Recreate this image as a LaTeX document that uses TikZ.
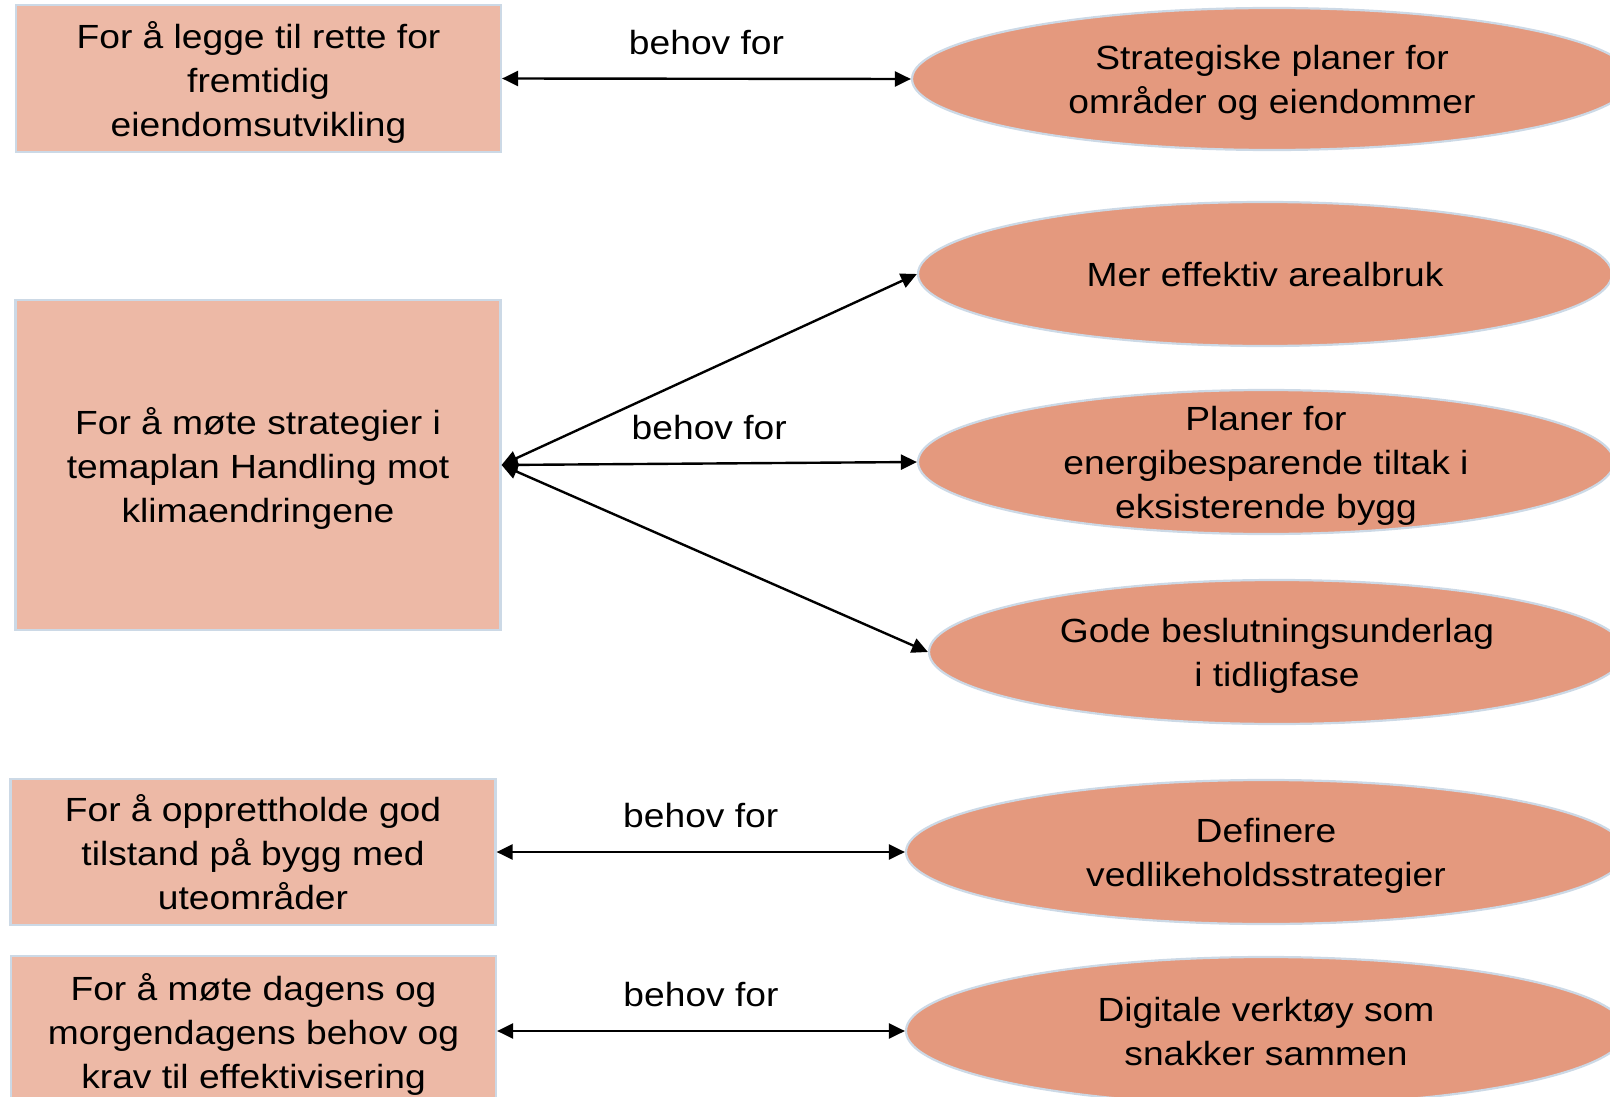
\documentclass[tikz,border=0pt]{standalone}
\usepackage{fontspec}
\setmainfont[FakeStretch=1.11]{Liberation Sans}
\usetikzlibrary{arrows.meta,shapes.geometric}
\definecolor{Peach}{HTML}{EDB9A6}
\definecolor{Salmon}{HTML}{E4997E}
\definecolor{Rim}{HTML}{CCD9E6}
\newcommand{\bigtext}{\fontsize{33.5}{44}\selectfont}
\tikzset{
 box/.style={draw=Rim,fill=Peach,line width=2.2pt,align=center,inner sep=0pt,minimum width=485pt,font=\bigtext,text depth=0pt},
 blob/.style={ellipse,draw=Rim,fill=Salmon,line width=2.2pt,align=center,inner xsep=8pt,inner ysep=-12pt,minimum height=144pt,font=\bigtext,text depth=0pt},
 arr/.style={{Triangle[length=16pt,width=15pt]}-{Triangle[length=16pt,width=15pt]},line width=2.4pt,draw=black},
 lbl/.style={above=22.5pt,inner sep=0pt,font=\bigtext}
}
\begin{document}
\begin{tikzpicture}[x=1pt,y=-1pt]
\useasboundingbox (0,0) rectangle (1610,1097);
\clip (0,0) rectangle (1610,1097);
% left column
\node[box,minimum height=147pt] (b1) at (258.5,78.5) {For å legge til rette for\\fremtidig\\eiendomsutvikling};
\node[box,minimum height=330pt] (b2) at (258,465) {For å møte strategier i\\temaplan Handling mot\\klimaendringene};
\node[box,minimum height=146pt] (b3) at (253,852) {For å opprettholde god\\tilstand på bygg med\\uteområder};
\node[box,minimum height=150pt] (b4) at (253.5,1031) {For å møte dagens og\\morgendagens behov og\\krav til effektivisering};
% right column
\node[blob,minimum width=720pt,minimum height=142pt] (e1) at (1272,79) {Strategiske planer for\\områder og eiendommer};
\node[blob,minimum width=694pt] (e2) at (1265,274) {Mer effektiv arealbruk};
\node[blob,minimum width=696pt] (e3) at (1266,462) {Planer for\\energibesparende tiltak i\\eksisterende bygg};
\node[blob,minimum width=696pt] (e4) at (1277,652) {Gode beslutningsunderlag\\i tidligfase};
\node[blob,minimum width=720pt] (e5) at (1266,852) {Definere\\vedlikeholdsstrategier};
\node[blob,minimum width=720pt,minimum height=148pt] (e6) at (1266,1031) {Digitale verktøy som\\snakker sammen};
\foreach \x/\y in {b1/e1,b2/e3,b3/e5,b4/e6} \draw[arr] (\x.east)-- node[lbl] {behov for} (\y.west);
\foreach \y in {e2,e4} \draw[arr] (b2.east)--(\y.west);
\end{tikzpicture}
\end{document}
